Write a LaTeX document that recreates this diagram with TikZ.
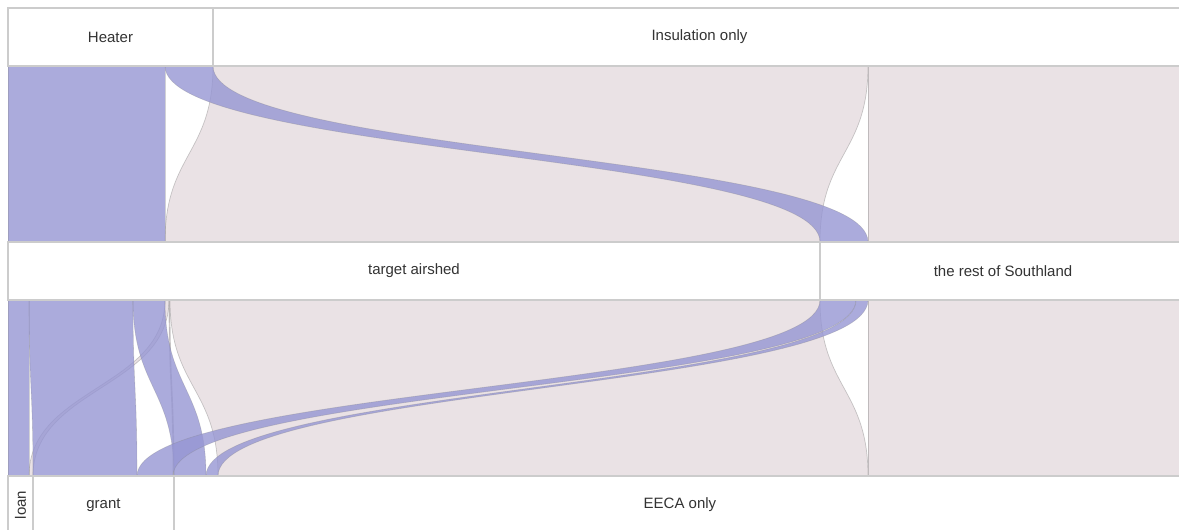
\documentclass[tikz,border=0pt]{standalone}
\usepackage{fontspec}
\setmainfont{Liberation Sans}
\definecolor{heatblue}{RGB}{150,150,211}
\definecolor{insulpink}{RGB}{234,226,229}
\definecolor{hdrline}{RGB}{204,204,204}
\definecolor{labeltext}{RGB}{51,51,51}
\tikzset{
    hdr/.style={draw=hdrline, line width=1.5pt, fill=white, inner sep=0pt, minimum height=58pt, text=labeltext, font=\fontsize{15}{18}\selectfont},
    flowblue/.style={fill=heatblue, fill opacity=0.8, draw=gray, draw opacity=0.3, line width=0.6pt},
    flowpink/.style={fill=insulpink, draw=gray, draw opacity=0.4, line width=0.7pt}
}
\newcommand{\flowband}[7]{
    \pgfmathsetmacro{\ymid}{(#6+#7)/2}
    \pgfmathsetmacro{\sxr}{#2+#3}
    \pgfmathsetmacro{\txr}{#4+#5}
    \draw[#1] (#2,#6) .. controls (#2,\ymid) and (#4,\ymid) .. (#4,#7) -- (\txr,#7) .. controls (\txr,\ymid) and (\sxr,\ymid) .. (\sxr,#6) -- cycle;
}

\begin{document}
\begin{tikzpicture}[x=1pt, y=-1pt]
    \useasboundingbox (0,0) rectangle (1179,530);
    \clip (0,0) rectangle (1179,530);

    \flowband{flowpink}{213}{655}{165}{655}{66}{242}
    \flowband{flowpink}{868}{318}{868}{318}{66}{242}
    \flowband{flowblue}{8}{157}{8}{157}{66}{242}
    \flowband{flowblue}{165}{48}{820}{48}{66}{242}

    \flowband{flowpink}{165}{4}{29}{4}{300}{476}
    \flowband{flowpink}{169}{1}{173}{1}{300}{476}
    \flowband{flowpink}{170}{650}{218}{650}{300}{476}
    \flowband{flowpink}{868}{318}{868}{318}{300}{476}
    \flowband{flowblue}{8}{21}{8}{21}{300}{476}
    \flowband{flowblue}{29}{104}{33}{104}{300}{476}
    \flowband{flowblue}{133}{32}{174}{32}{300}{476}
    \flowband{flowblue}{820}{36}{137}{36}{300}{476}
    \flowband{flowblue}{856}{12}{206}{12}{300}{476}

    \node[hdr, minimum width=205pt] (heater) at (110.5, 37) {Heater};
    \node[hdr, minimum width=973pt] (insul) at (699.5, 37) {Insulation only};
    \node[hdr, minimum width=812pt] (target) at (414, 271) {target airshed};
    \node[hdr, minimum width=366pt] (rest) at (1003, 271) {the rest of Southland};
    \node[hdr, minimum width=25pt] (loan) at (20.5, 505) {\rotatebox{90}{loan}};
    \node[hdr, minimum width=141pt] (grant) at (103.5, 505) {grant};
    \node[hdr, minimum width=1012pt] (eeca) at (680, 505) {EECA only};
\end{tikzpicture}
\end{document}
